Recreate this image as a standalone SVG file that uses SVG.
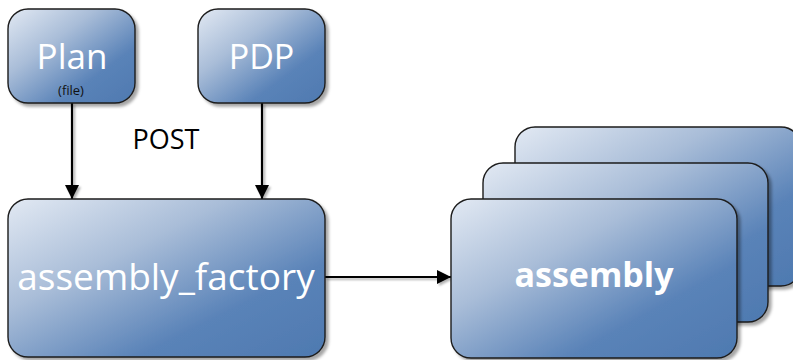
<svg xmlns="http://www.w3.org/2000/svg" width="793" height="360" viewBox="0 0 793 360">
<style>
.box{fill:url(#g);stroke:#1c1c1c;stroke-width:1.4;filter:url(#sh)}
.lbl{font-family:"Open Sans","Liberation Sans",sans-serif;fill:#ffffff;text-anchor:middle}
.con{stroke:#000;stroke-width:2.2;fill:none;marker-end:url(#ah)}
</style>
<defs>
<linearGradient id="g" x1="0" y1="0" x2="1" y2="1">
<stop offset="0" stop-color="#e2e9f3"/>
<stop offset="0.35" stop-color="#a9bdd8"/>
<stop offset="0.7" stop-color="#5a83b8"/>
<stop offset="1" stop-color="#4e79b0"/>
</linearGradient>
<filter id="sh" x="-10%" y="-10%" width="125%" height="125%">
<feGaussianBlur in="SourceAlpha" stdDeviation="1.6"/>
<feOffset dx="3" dy="3" result="b"/>
<feFlood flood-color="#000" flood-opacity="0.35"/>
<feComposite in2="b" operator="in"/>
<feMerge><feMergeNode/><feMergeNode in="SourceGraphic"/></feMerge>
</filter>
<filter id="sh2" filterUnits="userSpaceOnUse" x="0" y="0" width="793" height="360">
<feGaussianBlur in="SourceAlpha" stdDeviation="1"/>
<feOffset dx="2" dy="2" result="b"/>
<feFlood flood-color="#000" flood-opacity="0.3"/>
<feComposite in2="b" operator="in"/>
<feMerge><feMergeNode/><feMergeNode in="SourceGraphic"/></feMerge>
</filter>
<marker id="ah" markerUnits="userSpaceOnUse" markerWidth="16" markerHeight="16" refX="14" refY="7" orient="auto">
<path d="M0,0 L14,7 L0,14 Z" fill="#000"/>
</marker>
</defs>
<g id="connectors" filter="url(#sh2)">
<path class="con" d="M72,103 L72,199"/>
<path class="con" d="M262,103 L262,199"/>
<path class="con" d="M325,277 L451,277"/>
</g>
<text x="166" y="149" font-family="'Open Sans','Liberation Sans',sans-serif" font-size="27" fill="#000" text-anchor="middle">POST</text>
<g id="plan">
<rect class="box" x="8" y="9" width="127" height="94" rx="20"/>
<text class="lbl" x="72" y="69" font-size="35">Plan</text>
<text x="71" y="95" font-family="'Open Sans','Liberation Sans',sans-serif" font-size="13" fill="#111" text-anchor="middle">(file)</text>
</g>
<g id="pdp">
<rect class="box" x="198" y="9" width="127" height="94" rx="20"/>
<text class="lbl" x="261.5" y="69" font-size="34">PDP</text>
</g>
<g id="assembly_factory">
<rect class="box" x="8" y="199" width="317" height="158" rx="20"/>
<text class="lbl" x="166" y="290" font-size="37">assembly_factory</text>
</g>
<g id="assembly">
<rect class="box" x="515" y="127" width="286" height="159" rx="20"/>
<rect class="box" x="483" y="163" width="285" height="159" rx="20"/>
<rect class="box" x="451" y="199" width="286" height="159" rx="20"/>
<text class="lbl" x="594" y="287" font-size="34" font-weight="bold">assembly</text>
</g>
</svg>
